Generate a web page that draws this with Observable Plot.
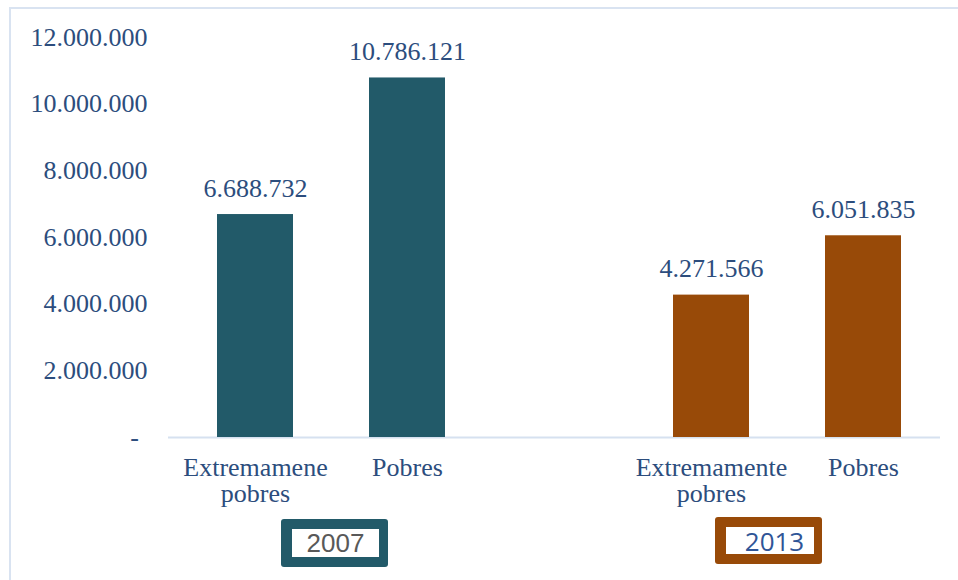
<!DOCTYPE html>
<html>
<head>
<meta charset="utf-8">
<script src="https://cdn.jsdelivr.net/npm/d3@7"></script>
<script src="https://cdn.jsdelivr.net/npm/@observablehq/plot@0.6"></script>
<style>
  html, body { margin: 0; padding: 0; background: #fff; }
  #wrap { position: relative; width: 958px; height: 580px; overflow: hidden; }
  #frame { position: absolute; left: 9px; top: 7px; right: -10px; bottom: -10px;
           border-top: 2px solid #D9E3F1; border-left: 2px solid #D9E3F1; }
  #chart { position: absolute; left: 0; top: 0; }
  .grp { position: absolute; box-sizing: border-box; border-radius: 3px; }
  .grp .inner { position: absolute; background: #fff; display: flex; align-items: center; justify-content: center; }
</style>
</head>
<body>
<div id="wrap">
  <div id="frame"></div>
  <div id="chart"></div>
</div>
<script>
// ---- data ----
const keys = ["e2007", "p2007", "e2013", "p2013"];
const groups = ["2007", "2007", "2013", "2013"];
const categories = ["Extremamene\npobres", "Pobres", "Extremamente\npobres", "Pobres"];
const values = [6688732, 10786121, 4271566, 6051835];
const xDomain = ["e2007", "p2007", "gap", "e2013", "p2013"];
const yTicks = [0, 2000000, 4000000, 6000000, 8000000, 10000000, 12000000];
const groupLabels = ["2007", "2013"];
const groupColors = {"2007": "#225A69", "2013": "#984A08"};

const rows = keys.map((k, i) => ({key: k, group: groups[i], cat: categories[i], value: values[i]}));

const loc = d3.formatLocale({decimal: ",", thousands: ".", grouping: [3], currency: ["", ""]});
const fmt = loc.format(",");
const textColor = "#2C4D7D";
const font = "'Liberation Serif', 'DejaVu Serif', serif";
const fs = 26;

const chart = Plot.plot({
  width: 958,
  height: 515,
  marginTop: 37,
  marginBottom: 78,
  marginLeft: 168,
  marginRight: 18,
  style: {fontFamily: font, fontSize: fs + "px", color: textColor, background: "transparent"},
  x: {type: "band", domain: xDomain, paddingInner: 0.5, paddingOuter: 0.25, insetLeft: 9, axis: null},
  y: {domain: [0, 12000000], axis: null},
  marks: [
    Plot.ruleY([0], {stroke: "#D6E1F0", strokeWidth: 2}),
    Plot.barY(rows, {x: "key", y: "value", fill: d => groupColors[d.group]}),
    Plot.text(rows, {x: "key", y: "value", text: d => fmt(d.value), lineAnchor: "bottom", dy: -18,
      fill: textColor, fontSize: fs}),
    Plot.text(rows, {x: "key", y: 0, text: "cat", lineAnchor: "top", dy: 20, lineHeight: 1.0,
      fill: textColor, fontSize: fs}),
    Plot.text(yTicks, {x: null, y: d => d, frameAnchor: "left", dx: -21, textAnchor: "end",
      text: d => d === 0 ? "-\u00a0\u200a" : fmt(d), fill: textColor, fontSize: fs})
  ]
});
document.getElementById("chart").appendChild(chart);

// group boxes below the axis
const boxes = [
  {label: groupLabels[0], left: 281, top: 519, w: 107, h: 48, inL: 11, inR: 9, inT: 10, inB: 10, padL: 0, color: "#595959", font: "'Liberation Sans', Arial, sans-serif"},
  {label: groupLabels[1], left: 715, top: 517, w: 107, h: 47, inL: 11, inR: 8, inT: 10, inB: 10, padL: 9, color: "#2F5597", font: "'Open Sans', 'Liberation Sans', sans-serif"}
];
const wrap = document.getElementById("wrap");
boxes.forEach(b => {
  const d = document.createElement("div");
  d.className = "grp";
  Object.assign(d.style, {left: b.left + "px", top: b.top + "px", width: b.w + "px", height: b.h + "px", background: groupColors[b.label]});
  const inner = document.createElement("div");
  inner.className = "inner";
  Object.assign(inner.style, {left: b.inL + "px", right: b.inR + "px", top: b.inT + "px", bottom: b.inB + "px",
    paddingLeft: b.padL + "px", color: b.color, fontFamily: b.font, fontSize: "26px"});
  inner.textContent = b.label;
  d.appendChild(inner);
  wrap.appendChild(d);
});
</script>
</body>
</html>
